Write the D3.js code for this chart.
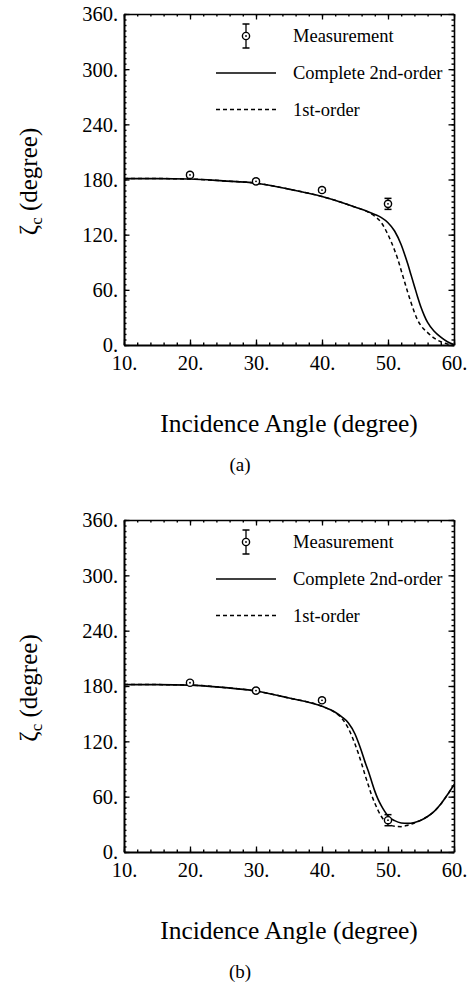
<!DOCTYPE html>
<html>
<head>
<meta charset="utf-8">
<script src="https://cdn.jsdelivr.net/npm/d3@7"></script>
<style>
  html, body { margin: 0; padding: 0; background: #fff; }
  svg { display: block; }
  svg text { font-family: "Liberation Serif", "Times New Roman", Times, "DejaVu Serif", serif !important; fill: #000; }
</style>
</head>
<body>
<svg id="fig" width="472" height="983"></svg>
<script>
// Axis ticks
const angleTicks = [10, 20, 30, 40, 50, 60];
const angleMinor = d3.range(10, 60.01, 2);
const phaseTicks = [0, 60, 120, 180, 240, 300, 360];
const phaseMinor = d3.range(0, 360.01, 6);

// Measured phase with error bars
const measAngles = [20, 30, 40, 50];
const measA = [185, 178, 168.5, 153.5];
const errA = [2, 2, 2, 6];
const measB = [183.5, 175, 164.5, 34.5];
const errB = [2, 2, 2, 6];

// (a) complete 2nd-order theory
const secondA_x = [10, 15, 20, 25, 30, 35, 40, 43, 45, 47, 48, 49, 50, 51, 52, 52.5, 53, 53.5, 54, 54.5, 55, 55.5, 56, 57, 58, 59, 60];
const secondA_y = [181, 181, 180.5, 178.5, 176, 169.5, 161.5, 155, 150, 145, 142, 138.5, 133, 124, 109, 99, 88, 76, 64, 52, 41, 32, 24.5, 15, 8.5, 3.5, 0.5];
// (a) 1st-order theory
const firstA_x = [10, 15, 20, 25, 30, 35, 40, 43, 45, 47, 48, 49, 50, 50.5, 51, 51.5, 52, 52.5, 53, 53.5, 54, 54.5, 55, 56, 57, 58, 59, 60];
const firstA_y = [181, 181, 180.5, 178.5, 176, 169.5, 161.5, 155, 150, 144.5, 140, 133, 120, 112, 103, 93, 81, 69, 57, 46, 35.5, 27, 21, 13.5, 7.5, 3.5, 1.2, 0.3];

// (b) complete 2nd-order theory
const secondB_x = [10, 15, 20, 25, 30, 35, 40, 42, 43, 44, 45, 45.5, 46, 46.5, 47, 47.5, 48, 48.5, 49, 49.5, 50, 51, 52, 53, 54, 55, 56, 57, 58, 59, 60];
const secondB_y = [181.5, 181.5, 181, 178.5, 174.5, 167, 158, 151.5, 146.5, 140, 128, 119, 109, 98, 88, 77, 66, 57, 50, 44, 39, 34, 31.5, 31, 32, 34.5, 38.5, 44, 52, 62, 73];
// (b) 1st-order theory
const firstB_x = [10, 15, 20, 25, 30, 35, 40, 42, 43, 44, 45, 45.5, 46, 46.5, 47, 47.5, 48, 48.5, 49, 49.5, 50, 51, 52, 53, 54, 55, 56, 57, 58, 59, 60];
const firstB_y = [181.5, 181.5, 181, 178.5, 174.5, 167, 158, 151, 145, 134, 117, 107, 96, 84, 73, 62, 53, 45, 38.5, 33.5, 30.5, 28, 27.5, 29, 31.5, 34.5, 38.5, 44, 52, 62, 73];

const legendLabels = ["Measurement", "Complete 2nd-order", "1st-order"];

const serif = '"Liberation Serif", "Times New Roman", Times, "DejaVu Serif", serif';
const svg = d3.select("#fig");
const left = 124, right = 454;
const x = d3.scaleLinear().domain([10, 60]).range([left, right]);

function panel(top, bottom, meas, err, second, first, tag, clipId) {
  const y = d3.scaleLinear().domain([0, 360]).range([bottom, top]);
  const g = svg.append("g").attr("font-family", serif);

  g.append("clipPath").attr("id", clipId)
    .append("rect").attr("x", left).attr("y", top).attr("width", right - left).attr("height", bottom - top);

  const styleAxis = (sel, w) => {
    sel.attr("font-family", serif);
    sel.select(".domain").attr("stroke-width", w).attr("stroke", "#000");
    sel.selectAll(".tick line").attr("stroke-width", 1.3).attr("stroke", "#000");
  };

  // minor ticks on all four sides
  [
    [d3.axisBottom(x).tickValues(angleMinor), `translate(0,${bottom})`],
    [d3.axisTop(x).tickValues(angleMinor), `translate(0,${top})`],
    [d3.axisLeft(y).tickValues(phaseMinor), `translate(${left},0)`],
    [d3.axisRight(y).tickValues(phaseMinor), `translate(${right},0)`]
  ].forEach(([ax, tr]) => {
    const s = g.append("g").attr("transform", tr)
      .call(ax.tickSize(-2.5).tickSizeOuter(0).tickFormat(""));
    s.select(".domain").remove();
    s.selectAll(".tick line").attr("stroke", "#000").attr("stroke-width", 1.4);
  });

  // major ticks, labelled bottom and left
  const xb = g.append("g").attr("transform", `translate(0,${bottom})`)
    .call(d3.axisBottom(x).tickValues(angleTicks).tickSize(-5.5).tickSizeOuter(0).tickPadding(8).tickFormat(d => d + "."));
  styleAxis(xb, 2);
  xb.selectAll("text").attr("font-size", 20.5).attr("dy", "0.85em");

  const xt = g.append("g").attr("transform", `translate(0,${top})`)
    .call(d3.axisTop(x).tickValues(angleTicks).tickSize(-5.5).tickSizeOuter(0).tickFormat(""));
  styleAxis(xt, 1.6);

  const yl = g.append("g").attr("transform", `translate(${left},0)`)
    .call(d3.axisLeft(y).tickValues(phaseTicks).tickSize(-5.5).tickSizeOuter(0).tickPadding(6).tickFormat(d => d + "."));
  styleAxis(yl, 2);
  yl.selectAll("text").attr("font-size", 20.5).attr("dy", "0.34em");

  const yr = g.append("g").attr("transform", `translate(${right},0)`)
    .call(d3.axisRight(y).tickValues(phaseTicks).tickSize(-5.5).tickSizeOuter(0).tickFormat(""));
  styleAxis(yr, 1.6);

  // theory curves
  const line = d3.line().x(d => x(d[0])).y(d => y(d[1])).curve(d3.curveMonotoneX);
  const curves = g.append("g").attr("clip-path", `url(#${clipId})`);
  curves.append("path").datum(d3.zip(first[0], first[1]))
    .attr("d", line).attr("fill", "none").attr("stroke", "#000")
    .attr("stroke-width", 1.5).attr("stroke-dasharray", "4,3");
  curves.append("path").datum(d3.zip(second[0], second[1]))
    .attr("d", line).attr("fill", "none").attr("stroke", "#000").attr("stroke-width", 1.6);

  // measurements
  const pts = measAngles.map((a, i) => ({ a, v: meas[i], e: err[i] }));
  const mg = g.append("g");
  pts.forEach(p => {
    const cx = x(p.a), y1 = y(p.v + p.e), y2 = y(p.v - p.e);
    mg.append("line").attr("x1", cx).attr("x2", cx).attr("y1", y1).attr("y2", y2).attr("stroke", "#000").attr("stroke-width", 1.3);
    [y1, y2].forEach(yy => mg.append("line").attr("x1", cx - 3.5).attr("x2", cx + 3.5).attr("y1", yy).attr("y2", yy).attr("stroke", "#000").attr("stroke-width", 1.5));
    mg.append("circle").attr("cx", cx).attr("cy", y(p.v)).attr("r", 3.6).attr("fill", "#fff").attr("stroke", "#000").attr("stroke-width", 1.4);
    mg.append("circle").attr("cx", cx).attr("cy", y(p.v)).attr("r", 0.9).attr("fill", "#000");
  });

  // legend
  const lg = g.append("g");
  const ly = [top + 22, top + 59, top + 95.5];
  const lx = 246;
  lg.append("line").attr("x1", lx).attr("x2", lx).attr("y1", ly[0] - 12).attr("y2", ly[0] + 12).attr("stroke", "#000").attr("stroke-width", 1.3);
  [ly[0] - 12, ly[0] + 12].forEach(yy => lg.append("line").attr("x1", lx - 3.5).attr("x2", lx + 3.5).attr("y1", yy).attr("y2", yy).attr("stroke", "#000").attr("stroke-width", 1.5));
  lg.append("circle").attr("cx", lx).attr("cy", ly[0]).attr("r", 3.6).attr("fill", "#fff").attr("stroke", "#000").attr("stroke-width", 1.4);
  lg.append("circle").attr("cx", lx).attr("cy", ly[0]).attr("r", 0.9).attr("fill", "#000");
  lg.append("line").attr("x1", 216).attr("x2", 276).attr("y1", ly[1]).attr("y2", ly[1]).attr("stroke", "#000").attr("stroke-width", 1.3);
  lg.append("line").attr("x1", 216).attr("x2", 276).attr("y1", ly[2]).attr("y2", ly[2]).attr("stroke", "#000").attr("stroke-width", 1.3).attr("stroke-dasharray", "4,3");
  legendLabels.forEach((t, i) => {
    lg.append("text").attr("x", 293).attr("y", ly[i] + 6).attr("font-size", 18.5).text(t);
  });

  // axis titles
  const yt = g.append("text")
    .attr("transform", `translate(37,${(top + bottom) / 2 + 2}) rotate(-90)`)
    .attr("text-anchor", "middle").attr("font-size", 25);
  yt.append("tspan").text("ζ");
  yt.append("tspan").attr("font-size", 17).attr("dy", 5).text("c");
  yt.append("tspan").attr("dy", -5).text(" (degree)");

  g.append("text").attr("x", 289).attr("y", bottom + 87).attr("text-anchor", "middle")
    .attr("font-size", 25.5).text("Incidence Angle (degree)");
  g.append("text").attr("x", 240).attr("y", bottom + 126).attr("text-anchor", "middle")
    .attr("font-size", 19).text(tag);
}

panel(14, 345, measA, errA, [secondA_x, secondA_y], [firstA_x, firstA_y], "(a)", "clipA");
panel(520, 852, measB, errB, [secondB_x, secondB_y], [firstB_x, firstB_y], "(b)", "clipB");
</script>
</body>
</html>
